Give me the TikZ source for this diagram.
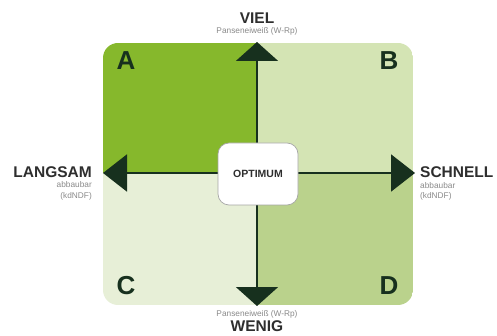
\documentclass[tikz,border=0pt]{standalone}
\usepackage{fontspec}
\setmainfont{Liberation Sans}
\usetikzlibrary{arrows.meta}
\definecolor{qa}{HTML}{86B82C}
\definecolor{qb}{HTML}{D4E4B4}
\definecolor{qc}{HTML}{E7EFD7}
\definecolor{qd}{HTML}{BAD28C}
\definecolor{ink}{HTML}{17301E}
\definecolor{lbl}{HTML}{2E2E2E}
\definecolor{sub}{HTML}{8A8A8A}
\tikzset{
  quadletter/.style={font=\fontsize{26}{26}\bfseries\selectfont, text=ink},
  bigword/.style={font=\fontsize{15.5}{16}\bfseries\selectfont, text=lbl, inner sep=0pt},
  smallword/.style={font=\fontsize{8.3}{9}\selectfont, text=sub, inner sep=0pt},
  axis/.style={draw=ink, line width=2pt},
  vtip/.style={-{Triangle[width=42pt,length=19pt]}},
  htip/.style={-{Triangle[width=37pt,length=24pt]}},
  optbox/.style={draw=black!35, line width=0.7pt, fill=white, rounded corners=11pt, minimum width=80pt, minimum height=62pt, font=\fontsize{10.5}{11}\bfseries\selectfont, text=lbl}
}
\begin{document}
\begin{tikzpicture}[x=1pt,y=-1pt]
\useasboundingbox (0,0) rectangle (497,336);
\fill[white] (0,0) rectangle (497,336);
\begin{scope}
\clip[rounded corners=15pt] (103,43) rectangle (413,305);
\fill[qa] (103,43) rectangle (257,173);
\fill[qb] (257,43) rectangle (413,173);
\fill[qc] (103,173) rectangle (257,305);
\fill[qd] (257,173) rectangle (413,305);
\end{scope}
\coordinate (c) at (257,173);
\coordinate (top) at (257,42);
\coordinate (bot) at (257,306);
\coordinate (lft) at (103,173);
\coordinate (rgt) at (415,173);
\draw[axis, vtip, fill=ink] (c) -- (top);
\draw[axis, vtip, fill=ink] (c) -- (bot);
\draw[axis, htip, fill=ink] (c) -- (lft);
\draw[axis, htip, fill=ink] (c) -- (rgt);
\node[optbox] (opt) at (258,174) {OPTIMUM};
\node[quadletter] (la) at (126,61) {A};
\node[quadletter] (lb) at (389,61) {B};
\node[quadletter] (lc) at (126,286) {C};
\node[quadletter] (ld) at (389,286) {D};
\node[bigword] (viel) at (257,18) {VIEL};
\node[smallword] (vielsub) at (257,31) {Panseneiweiß (W-Rp)};
\node[bigword] (wenig) at (257,326) {WENIG};
\node[smallword] (wenigsub) at (257,314) {Panseneiweiß (W-Rp)};
\node[bigword, anchor=east] (langsam) at (92,172) {LANGSAM};
\node[smallword, anchor=east] (lsub1) at (92,185) {abbaubar};
\node[smallword, anchor=east] (lsub2) at (92,196) {(kdNDF)};
\node[bigword, anchor=west] (schnell) at (420,172) {SCHNELL};
\node[smallword, anchor=west] (ssub1) at (420,186) {abbaubar};
\node[smallword, anchor=west] (ssub2) at (420,196) {(kdNDF)};
\end{tikzpicture}
\end{document}
